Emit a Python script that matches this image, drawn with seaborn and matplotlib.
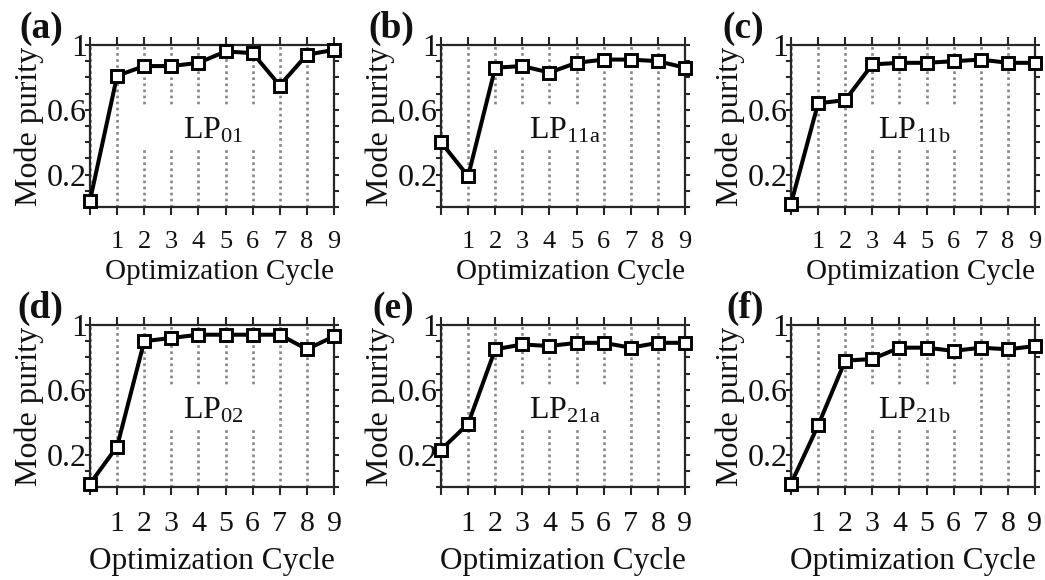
import numpy as np
import pandas as pd
import matplotlib
matplotlib.use("Agg")
import matplotlib.pyplot as plt
from matplotlib.patches import Rectangle
from matplotlib.ticker import MultipleLocator
import seaborn as sns

# ---------------- data ----------------
cycles = [0, 1, 2, 3, 4, 5, 6, 7, 8, 9]
lp01 = [0.04, 0.81, 0.87, 0.87, 0.89, 0.96, 0.95, 0.75, 0.94, 0.97]
lp11a = [0.40, 0.19, 0.86, 0.87, 0.83, 0.89, 0.91, 0.91, 0.90, 0.86]
lp11b = [0.02, 0.64, 0.66, 0.88, 0.89, 0.89, 0.90, 0.91, 0.89, 0.89]
lp02 = [0.02, 0.25, 0.90, 0.92, 0.94, 0.94, 0.94, 0.94, 0.85, 0.93]
lp21a = [0.23, 0.39, 0.85, 0.88, 0.87, 0.89, 0.89, 0.86, 0.89, 0.89]
lp21b = [0.02, 0.38, 0.78, 0.79, 0.86, 0.86, 0.84, 0.86, 0.85, 0.87]

series = [lp01, lp11a, lp11b, lp02, lp21a, lp21b]
panel_letters = ["(a)", "(b)", "(c)", "(d)", "(e)", "(f)"]
mode_names = [r"LP$_{\mathregular{01}}$", r"LP$_{\mathregular{11a}}$", r"LP$_{\mathregular{11b}}$",
              r"LP$_{\mathregular{02}}$", r"LP$_{\mathregular{21a}}$", r"LP$_{\mathregular{21b}}$"]
xtick_labels = ["", "1", "2", "3", "4", "5", "6", "7", "8", "9"]
ytick_vals = [0.2, 0.6, 1.0]
ytick_labels = ["0.2", "0.6", "1"]
xlabel_text = "Optimization Cycle"
ylabel_text = "Mode purity"

frames = []
for name, vals in zip(mode_names, series):
    frames.append(pd.DataFrame({"cycle": cycles, "purity": vals, "mode": name}))
df = pd.concat(frames, ignore_index=True)

# ---------------- style ----------------
sns.set_theme(style="white")
plt.rcParams["font.family"] = ["Liberation Serif", "DejaVu Serif"]
plt.rcParams["mathtext.fontset"] = "custom"
plt.rcParams["mathtext.rm"] = "Liberation Serif"
plt.rcParams["mathtext.it"] = "Liberation Serif:italic"
plt.rcParams["axes.axisbelow"] = True

W, H = 1045, 580
fig = plt.figure(figsize=(W / 100, H / 100), dpi=100)

lefts = [90, 441, 791]
tops = [45, 325]
aw, ah = 244, 162
spine_col = "#262626"
text_col = "#111111"

# per-panel white gap box over the grid (x-span)
gap_spans = [(1.5, 6.5), (1.5, 5.5), (2.5, 6.5), (2.5, 6.5), (2.5, 6.5), (2.5, 6.5)]
row_xtick_size = [19, 21.5]
row_xlabel_size = [21, 22.5]
row_xlabel_x = [0.53, 0.5]

for i, name in enumerate(mode_names):
    r, c = divmod(i, 3)
    ax = fig.add_axes([lefts[c] / W, 1 - (tops[r] + ah) / H, aw / W, ah / H])
    sub = df[df["mode"] == name]
    sns.lineplot(data=sub, x="cycle", y="purity", ax=ax, color="black", linewidth=2.9,
                 marker="s", markersize=8.3, markerfacecolor="white",
                 markeredgecolor="black", markeredgewidth=2.1, clip_on=False, zorder=3,
                 legend=False)
    ax.set_xlim(0, 9)
    ax.set_ylim(0, 1)

    # vertical dotted grid
    ax.xaxis.grid(True, color="#858585", linestyle=(0, (1.0, 1.3)), linewidth=1.9)
    ax.yaxis.grid(False)
    gx0, gx1 = gap_spans[i]
    ax.add_patch(Rectangle((gx0, 0.36), gx1 - gx0, 0.27, facecolor="white",
                           edgecolor="none", zorder=1))
    ax.text(4.55, 0.47, name, ha="center", va="center", fontsize=23, color=text_col, zorder=4)

    ax.set_xticks(cycles)
    ax.set_xticklabels(xtick_labels)
    ax.set_yticks(ytick_vals)
    ax.set_yticklabels(ytick_labels)
    ax.yaxis.set_minor_locator(MultipleLocator(0.1))

    for s in ax.spines.values():
        s.set_visible(True)
        s.set_color(spine_col)
        s.set_linewidth(1.6)
    ax.tick_params(axis="x", which="both", direction="out", length=5.5, width=1.5,
                   colors=spine_col, top=True, bottom=True, labelsize=row_xtick_size[r],
                   labelcolor=text_col, pad=12)
    ax.tick_params(axis="y", which="both", direction="out", length=3.5, width=1.5,
                   colors=spine_col, left=True, right=True, labelsize=23,
                   labelcolor=text_col, pad=-1.5)

    ax.set_xlabel(xlabel_text, fontsize=row_xlabel_size[r], color=text_col, labelpad=1)
    ax.xaxis.set_label_coords(row_xlabel_x[r], -0.32 if r == 0 else -0.37)
    ax.xaxis.label.set_va("top")
    ax.set_ylabel(ylabel_text, fontsize=23, color=text_col, labelpad=2)

    ax.text(-0.11, 1.045, panel_letters[i], transform=ax.transAxes, ha="right",
            va="baseline", fontsize=27, fontweight="bold", color=text_col)

fig.savefig("out.png", dpi=100)
